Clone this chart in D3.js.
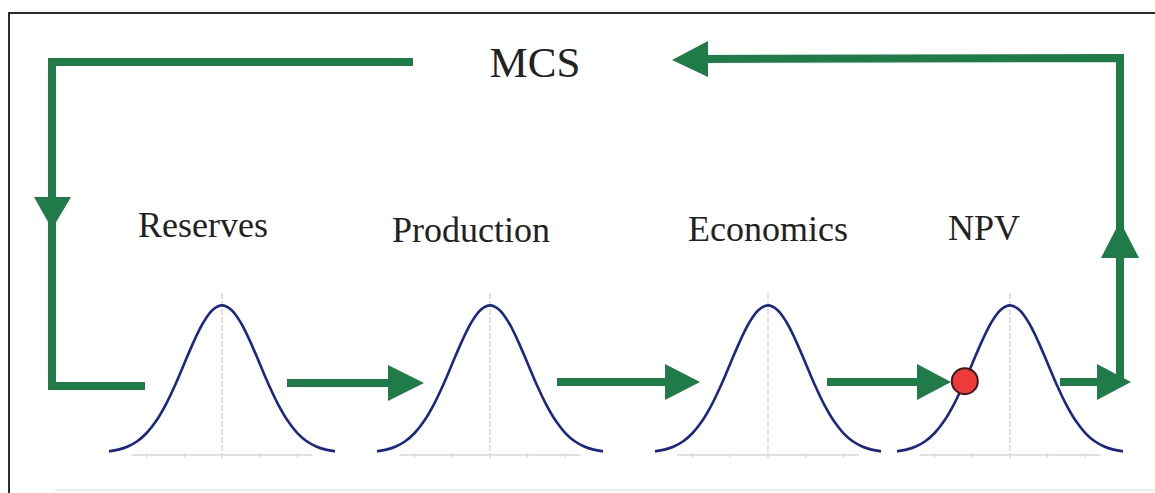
<!DOCTYPE html>
<html><head><meta charset="utf-8">
<script src="https://cdn.jsdelivr.net/npm/d3@7"></script>
<style>body{margin:0;background:#fff}svg{display:block}</style>
</head><body>
<script>
// ---- data ----
const stages = ["Reserves", "Production", "Economics", "NPV"];
const title = "MCS";
// standard normal density read at z points
const zValues = [-3, -2.75, -2.5, -2.25, -2, -1.75, -1.5, -1.25, -1, -0.75, -0.5, -0.25, 0, 0.25, 0.5, 0.75, 1, 1.25, 1.5, 1.75, 2, 2.25, 2.5, 2.75, 3];
const density = [0.0044, 0.0091, 0.0175, 0.0317, 0.054, 0.0863, 0.1295, 0.1826, 0.242, 0.3011, 0.3521, 0.3867, 0.3989, 0.3867, 0.3521, 0.3011, 0.242, 0.1826, 0.1295, 0.0863, 0.054, 0.0317, 0.0175, 0.0091, 0.0044];
const markerStage = "NPV";
const markerZ = -1.2;
const markerDensity = 0.1942;

// ---- layout ----
const W = 1155, H = 493;
const green = "#1f7b47", navy = "#1b2787";
const curveCenters = [222, 490, 768, 1010];
const labelCenters = [203, 471, 768, 984];
const labelBaselines = [237, 242, 241, 240];
const halfW = 113;

const svg = d3.select("body").append("svg").attr("width", W).attr("height", H);

// frame
svg.append("path").attr("d", `M9,493 L9,13 L1155,13`).attr("fill", "none").attr("stroke", "#2b2b2b").attr("stroke-width", 2);
svg.append("line").attr("x1", 55).attr("x2", 1155).attr("y1", 490).attr("y2", 490).attr("stroke", "#e4e4e4").attr("stroke-width", 1.5);

const yScale = d3.scaleLinear().domain([0, 0.4]).range([453, 305]);

stages.forEach((s, i) => {
  const cx = curveCenters[i];
  const x = d3.scaleLinear().domain([-3, 3]).range([cx - halfW, cx + halfW]);
  const g = svg.append("g");
  // faint axes
  g.append("line").attr("x1", x(-2.4)).attr("x2", x(2.4)).attr("y1", 455).attr("y2", 455)
    .attr("stroke", "#d6d6d6").attr("stroke-width", 1.5);
  g.append("line").attr("x1", x(0)).attr("x2", x(0)).attr("y1", 293).attr("y2", 458)
    .attr("stroke", "#d0d0d0").attr("stroke-width", 1.2).attr("stroke-dasharray", "6,2");
  [-2, -1, 1, 2].forEach(t => g.append("line").attr("x1", x(t)).attr("x2", x(t)).attr("y1", 453).attr("y2", 458).attr("stroke", "#d6d6d6"));
  const line = d3.line().x((d, j) => x(zValues[j])).y(d => yScale(d)).curve(d3.curveCatmullRom);
  g.append("path").attr("d", line(density)).attr("fill", "none").attr("stroke", navy).attr("stroke-width", 2.6);
  g.append("text").attr("x", labelCenters[i]).attr("y", labelBaselines[i]).attr("text-anchor", "middle")
    .attr("font-family", "Liberation Serif, Times New Roman, serif").attr("font-size", 36).attr("fill", "#222").text(s);
});

svg.append("text").attr("x", 535).attr("y", 77).attr("text-anchor", "middle")
  .attr("font-family", "Liberation Serif, Times New Roman, serif").attr("font-size", 43).attr("fill", "#222").text(title);

// green loop
const lw = 8;
const poly = pts => svg.append("polyline").attr("points", pts.map(p => p.join(",")).join(" "))
  .attr("fill", "none").attr("stroke", green).attr("stroke-width", lw).attr("stroke-linejoin", "miter");
const tri = pts => svg.append("polygon").attr("points", pts.map(p => p.join(",")).join(" ")).attr("fill", green);

poly([[413, 62], [52, 62], [52, 386], [145, 386]]);
tri([[34, 197], [71, 197], [52, 229]]);

poly([[1120, 381], [1120, 58], [700, 59]]);
tri([[708, 41], [708, 77], [672, 60]]);
tri([[1101, 258], [1139, 258], [1120, 221]]);

// horizontal arrows between curves
const arrows = [[287, 388, 424, 383], [557, 665, 700, 382], [827, 917, 951, 382], [1060, 1097, 1131, 382]];
arrows.forEach(a => {
  svg.append("line").attr("x1", a[0]).attr("x2", a[1] + 2).attr("y1", a[3]).attr("y2", a[3]).attr("stroke", green).attr("stroke-width", lw);
  tri([[a[1], a[3] - 18], [a[1], a[3] + 18], [a[2], a[3]]]);
});

// red marker on NPV distribution
const mi = stages.indexOf(markerStage);
const mx = d3.scaleLinear().domain([-3, 3]).range([curveCenters[mi] - halfW, curveCenters[mi] + halfW]);
svg.append("circle").attr("cx", mx(markerZ)).attr("cy", yScale(markerDensity)).attr("r", 13)
  .attr("fill", "#f03a3a").attr("stroke", "#3a1a1a").attr("stroke-width", 2);
</script>
</body></html>
